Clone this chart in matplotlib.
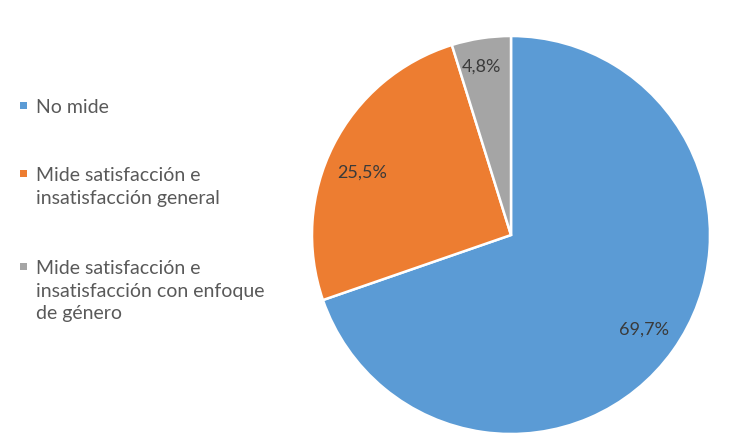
import matplotlib.pyplot as plt
from matplotlib.patches import Rectangle

labels = ["No mide",
          "Mide satisfacción e\ninsatisfacción general",
          "Mide satisfacción e\ninsatisfacción con enfoque\nde género"]
values = [69.7, 25.5, 4.8]
colors = ["#5B9BD5", "#ED7D31", "#A5A5A5"]
# label positions inside each wedge (data coords, pie radius = 1)
label_xy = [(0.67, -0.47), (-0.75, 0.32), (-0.15, 0.85)]

W, H = 749, 435
fig = plt.figure(figsize=(W / 100, H / 100), dpi=100)

cx, cy, r = 511, 236, 199
ax = fig.add_axes([(cx - r) / W, (H - cy - r) / H, 2 * r / W, 2 * r / H])
wedges, _ = ax.pie(values, colors=colors, startangle=90, counterclock=False,
                   radius=1, wedgeprops=dict(edgecolor="white", linewidth=1.8))
ax.set_xlim(-1, 1)
ax.set_ylim(-1, 1)
ax.set_aspect("equal")
ax.axis("off")

for v, (x, y) in zip(values, label_xy):
    ax.text(x, y, f"{v:.1f}%".replace(".", ","), ha="center", va="center",
            fontsize=13, color="#3a3a3a", family="Lato")

# hand-placed legend on the left, y = centre of first text line (px)
rows = [106, 174, 267]
for lab, col, y in zip(labels, colors, rows):
    fig.add_artist(Rectangle((20 / W, (H - y - 4) / H), 7 / W, 7 / H,
                             transform=fig.transFigure, color=col, lw=0))
    fig.text(36 / W, (H - y + 7) / H, lab, ha="left", va="top",
             fontsize=14, color="#595959", family="Lato",
             linespacing=1.4, transform=fig.transFigure)

fig.savefig("out.png", dpi=100)
